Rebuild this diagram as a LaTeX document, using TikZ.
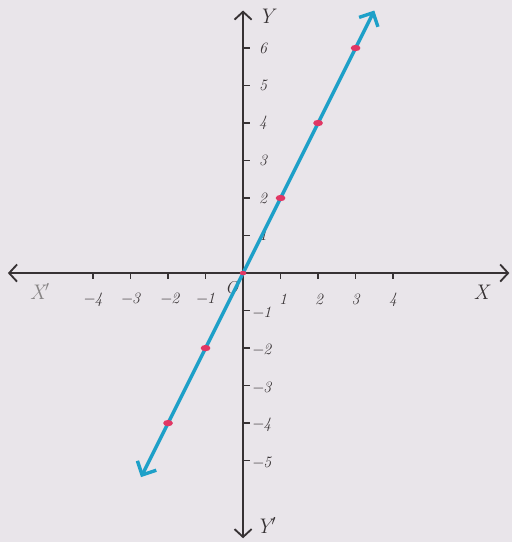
\documentclass[tikz,border=0pt]{standalone}
\usetikzlibrary{arrows.meta}
\definecolor{paper}{RGB}{233,229,234}
\definecolor{axiscol}{RGB}{55,50,52}
\definecolor{linecol}{RGB}{30,160,200}
\definecolor{dotcol}{RGB}{225,55,100}
\begin{document}
\begin{tikzpicture}[x=1cm,y=1cm,
  axis/.style={draw=axiscol,line width=1.4pt,{Straight Barb[length=6pt,width=13pt]}-{Straight Barb[length=6pt,width=13pt]}},
  graphline/.style={draw=linecol,line width=2.6pt,{Straight Barb[length=8pt,width=16pt]}-{Straight Barb[length=8pt,width=16pt]}},
  tick/.style={draw=axiscol,line width=1.2pt},
  num/.style={font=\fontsize{12}{14}\selectfont\itshape,text=axiscol,inner sep=0pt},
  axlabel/.style={font=\fontsize{16}{18}\selectfont\itshape,text=axiscol,inner sep=0pt}]
\fill[paper] (-6.48,-7.17) rectangle (7.17,7.28);
\useasboundingbox (-6.48,-7.17) rectangle (7.17,7.28);
% axes
\coordinate (xl) at (-6.27,0);
\coordinate (xr) at (7.1,0);
\coordinate (yt) at (0,7.0);
\coordinate (yb) at (0,-7.07);
\draw[axis] (xl) -- (xr);
\draw[axis] (yb) -- (yt);
% x ticks
\foreach \i in {-4,-3,-2,-1,1,2,3,4} {
  \draw[tick] (\i,0) -- (\i,-0.17);
}
\foreach \i/\dx in {-4/0,-3/0,-2/0.05,-1/0} {
  \node[num] (xn\i) at (\i+\dx,-0.7) {$-$\kern-1pt\the\numexpr-\i\relax};
}
\foreach \i/\dx in {1/0.07,2/0.03,3/0,4/0} {
  \node[num] (xp\i) at (\i+\dx,-0.7) {\i};
}
% y ticks
\foreach \j in {-5,-4,-3,-2,-1,1,2,3,4,5,6} {
  \draw[tick] (0,\j) -- (0.19,\j);
}
\foreach \j in {1,2,3,4,5,6} {
  \node[num,anchor=west] (yp\j) at (0.42,\j) {\j};
}
\foreach \j in {-1,-2,-3,-4,-5} {
  \node[num,anchor=west] (yn\j) at (0.24,\j-0.05) {$-$\kern-1pt\the\numexpr-\j\relax};
}
% axis labels
\node[axlabel] (Y) at (0.62,6.85) {Y};
\node[axlabel] (Yp) at (0.62,-6.72) {Y$'$};
\node[axlabel] (X) at (6.35,-0.5) {X};
\node[axlabel,text=axiscol!60] (Xp) at (-5.42,-0.5) {X$'$};
\node[axlabel,font=\fontsize{13}{15}\selectfont\itshape] (O) at (-0.3,-0.38) {O};
% graph line
\coordinate (la) at (-2.72,-5.44);
\coordinate (lb) at (3.5,7.0);
\draw[graphline] (la) -- (lb);
% points
\foreach \p/\q in {3/6,2/4,1/2,-1/-2,-2/-4} {
  \fill[dotcol] (\p,\q) ellipse (0.13 and 0.085);
}
\fill[dotcol] (0,0) ellipse (0.09 and 0.06);
\end{tikzpicture}
\end{document}
